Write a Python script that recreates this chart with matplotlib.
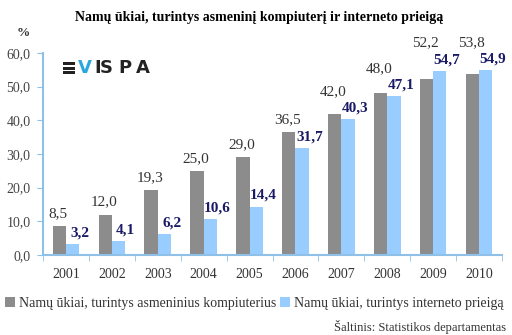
import numpy as np
import matplotlib
matplotlib.use('Agg')
import matplotlib.pyplot as plt
from matplotlib.patches import Rectangle

# Duomenys
years = ['2001', '2002', '2003', '2004', '2005', '2006', '2007', '2008', '2009', '2010']
computers = [8.5, 12.0, 19.3, 25.0, 29.0, 36.5, 42.0, 48.0, 52.2, 53.8]
internet = [3.2, 4.1, 6.2, 10.6, 14.4, 31.7, 40.3, 47.1, 54.7, 54.9]
yticks = [0, 10, 20, 30, 40, 50, 60]

plt.rcParams['font.family'] = ['Liberation Serif', 'DejaVu Serif']

W, H = 512, 335
fig = plt.figure(figsize=(W / 100, H / 100), dpi=100)
ax = fig.add_axes([43 / W, 80 / H, 459 / W, 202 / H])

x = np.arange(len(years))
w = 0.29
gray = '#8c8c8c'
blue = '#99ccff'
axis_col = '#8fc1e8'

ax.bar(x - w / 2, computers, w, color=gray, label='Namų ūkiai, turintys asmeninius kompiuterius')
ax.bar(x + w / 2, internet, w, color=blue, label='Namų ūkiai, turintys interneto prieigą')

# etiketės: pilka virš mėlynos etiketės, jei jos persidengtų
for i in range(len(years)):
    y_blue = internet[i] + 1.4
    y_gray = max(computers[i] + 1.8, internet[i] + 6.3)
    ax.text(x[i] - w / 2 - 0.03, y_gray, f'{computers[i]:.1f}'.replace('.', ','),
            ha='center', va='bottom', fontsize=11, color='#333333')
    ax.text(x[i] + w / 2 + 0.16, y_blue, f'{internet[i]:.1f}'.replace('.', ','),
            ha='center', va='bottom', fontsize=11, color='#1a1a66', fontweight='bold')

ax.set_xlim(-0.5, len(years) - 0.5)
ax.set_ylim(0, 60)
ax.set_yticks(yticks)
ax.set_yticklabels([f'{v:.1f}'.replace('.', ',') for v in yticks], fontsize=10, color='#444444')
ax.set_xticks(x)
ax.set_xticklabels(years, fontsize=10, color='#333333')
ax.set_xticks(np.arange(-0.5, len(years)), minor=True)
ax.tick_params(axis='x', which='major', length=0, pad=9)
ax.tick_params(axis='x', which='minor', length=4, color=axis_col, direction='out')
ax.tick_params(axis='y', length=4, color=axis_col, direction='out', pad=5)

for s in ['top', 'right']:
    ax.spines[s].set_visible(False)
ax.spines['left'].set_color(axis_col)
ax.spines['bottom'].set_color(axis_col)
ax.spines['left'].set_linewidth(1.5)
ax.spines['bottom'].set_linewidth(1.5)

fig.text(259 / W, 1 - 17 / H, 'Namų ūkiai, turintys asmeninį kompiuterį ir interneto prieigą',
         ha='center', va='center', fontsize=10, fontweight='bold')
fig.text(23 / W, 1 - 33 / H, '%', ha='center', va='center', fontsize=9.5,
         fontweight='bold', color='#333333')

# logotipas
for yy in [63.3, 68, 72.7]:
    fig.add_artist(Rectangle((63 / W, 1 - (yy + 1.5) / H), 12 / W, 3 / H,
                             transform=fig.transFigure, color='#222222', lw=0))
logo = [('V', 78, '#29a8e0'), ('I', 94, '#222222'), ('S', 100, '#222222'),
        ('P', 118, '#222222'), ('A', 136, '#222222')]
for ch, px, col in logo:
    fig.text(px / W, 1 - 68 / H, ch, ha='left', va='center', fontsize=13,
             fontweight='bold', color=col, family='DejaVu Sans')

ax.legend(loc='center left', bbox_to_anchor=(-38 / 459, -(303 - 255) / 202), ncol=2,
          frameon=False, fontsize=10, handlelength=0.7, handleheight=0.7,
          handletextpad=0.3, columnspacing=0.3, borderaxespad=0, borderpad=0,
          labelcolor='#333333')

fig.text(506 / W, 1 - 327 / H, 'Šaltinis: Statistikos departamentas', ha='right',
         va='center', fontsize=9, color='#333333')

plt.savefig('out.png', dpi=100)
